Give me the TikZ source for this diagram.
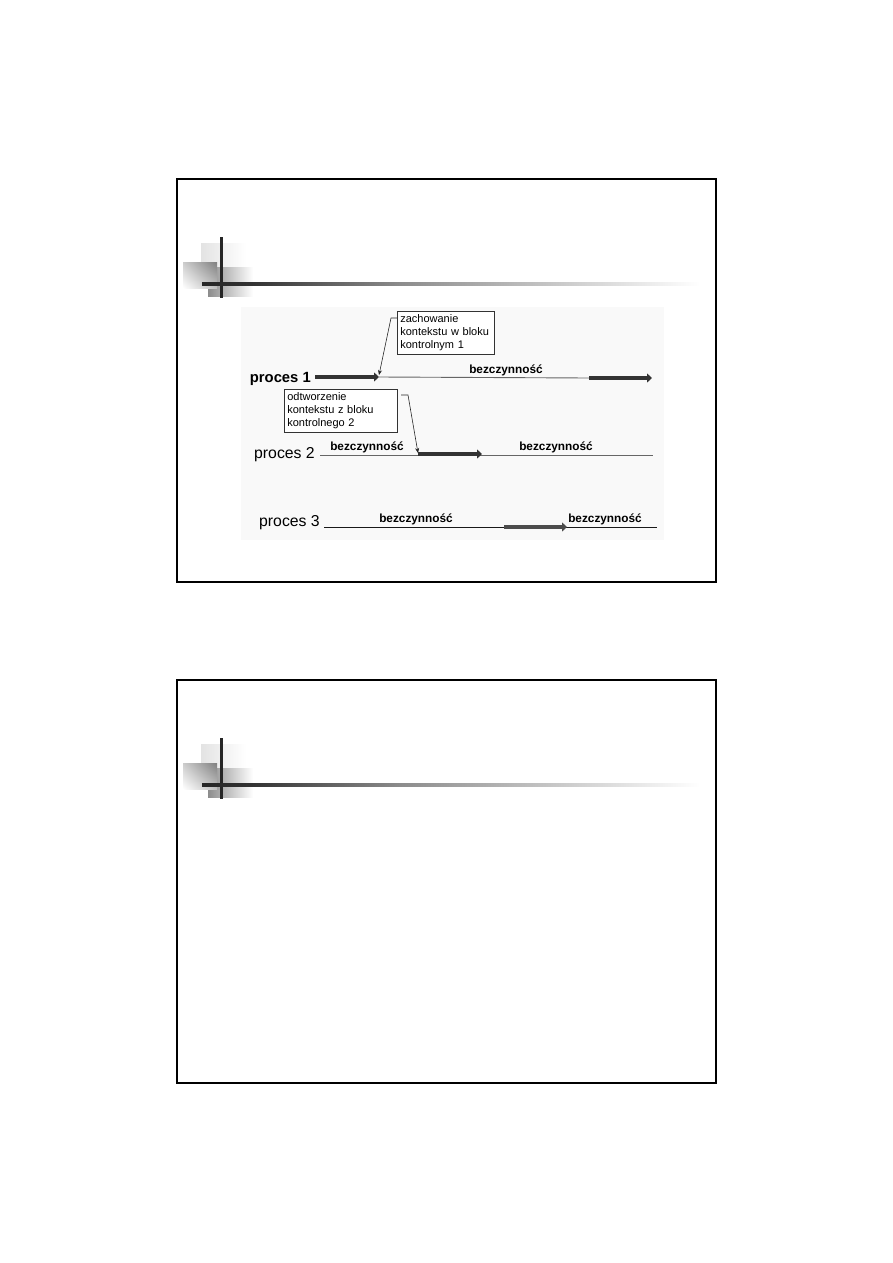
\documentclass[tikz,border=0pt]{standalone}
\usepackage{fontspec}
\setmainfont{Liberation Sans}
\usetikzlibrary{arrows.meta,shadings}
\pgfdeclarehorizontalshading{hlinegrad}{100bp}{color(0bp)=(black!85); color(25bp)=(black!85); color(30bp)=(black!80); color(45bp)=(black!45); color(75bp)=(white); color(100bp)=(white)}
\begin{document}
\begin{tikzpicture}[x=1pt,y=-1pt,
  slideframe/.style={draw=black,line width=2pt},
  thinline/.style={draw=black!60,line width=0.9pt},
  thickarrow/.style={draw=black!80,line width=3.6pt,-{Triangle[length=5pt,width=9pt]}},
  conn/.style={draw=black!85,line width=0.6pt,-{Stealth[length=5pt,width=4pt]}},
  proclabel/.style={font=\fontsize{15.8}{18}\selectfont,anchor=base east,inner sep=0pt},
  idlelabel/.style={font=\bfseries\fontsize{11.8}{14}\selectfont,anchor=base,inner sep=0pt},
  note/.style={draw=black!80,line width=0.6pt,fill=white,anchor=north west,align=left,
    font=\fontsize{11}{12.7}\selectfont,inner xsep=3pt,inner ysep=2pt,minimum height=43pt}
]
\useasboundingbox (0,0) rectangle (893,1263);
\fill[white] (0,0) rectangle (893,1263);

% ---------- slide frames and title decorations ----------
\foreach \dy in {0,501}{
  \begin{scope}[yshift=-\dy pt]
    \shade[left color=black!11,right color=white] (201,243) rectangle (246,268);
    \shade[left color=black!45,right color=white] (208,267) rectangle (253,296);
    \shade[upper left=black!20,upper right=black!50,lower left=white,lower right=black!25] (183,262) rectangle (217,288);
    \draw[black!85,line width=3pt] (221.7,237) -- (221.7,298);
    \shade[shading=hlinegrad] (202,282.5) rectangle (700,285.5);
  \end{scope}
}
\draw[slideframe] (177,179) rectangle (716,582);
\draw[slideframe] (177,680) rectangle (716,1083);

% ---------- diagram background ----------
\fill[black!2.5] (241,307) rectangle (664,540);

% ---------- process 1 ----------
\node[proclabel,font=\bfseries\fontsize{14.8}{17}\selectfont] (p1) at (311,382) {proces 1};
\coordinate (a1s) at (315,377);
\coordinate (a1e) at (379,377);
\coordinate (l1e) at (589,378);
\coordinate (a2e) at (652,378);
\draw[thinline] (a1e) -- (l1e);
\draw[thickarrow] (a1s) -- (a1e);
\draw[thickarrow] (l1e) -- (a2e);
\node[idlelabel] (i1) at (506,373) {bezczynność};

% ---------- process 2 ----------
\node[proclabel] (p2) at (315,458) {proces 2};
\coordinate (l2s) at (320,455);
\coordinate (l2e) at (653,455);
\coordinate (a3s) at (418,454);
\coordinate (a3e) at (482,454);
\draw[thinline] (l2s) -- (l2e);
\draw[thickarrow] (a3s) -- (a3e);
\node[idlelabel] (i2) at (367,450) {bezczynność};
\node[idlelabel] (i3) at (556,450) {bezczynność};

% ---------- process 3 ----------
\node[proclabel] (p3) at (320,526) {proces 3};
\coordinate (l3s) at (324,527);
\coordinate (l3e) at (657,527);
\coordinate (a4s) at (504,527);
\coordinate (a4e) at (567,527);
\draw[black!90,line width=0.9pt] (l3s) -- (l3e);
\draw[thickarrow,draw=black!70] (a4s) -- (a4e);
\node[idlelabel] (i4) at (416,522) {bezczynność};
\node[idlelabel] (i5) at (605,522) {bezczynność};

% ---------- notes ----------
\node[note,text width=91pt] (b1) at (397,311) {zachowanie\\kontekstu w bloku\\kontrolnym 1};
\node[note,text width=107pt] (b2) at (284,389) {odtworzenie\\kontekstu z bloku\\kontrolnego 2};

\coordinate (c1) at (391,318);
\draw[conn] ([yshift=-7pt]b1.north west) -- (c1) -- ([yshift=2pt]a1e);
\coordinate (c2s) at (401,395);
\coordinate (c2) at (408,395);
\draw[conn] (c2s) -- (c2) -- ([yshift=1pt]a3s);
\end{tikzpicture}
\end{document}
